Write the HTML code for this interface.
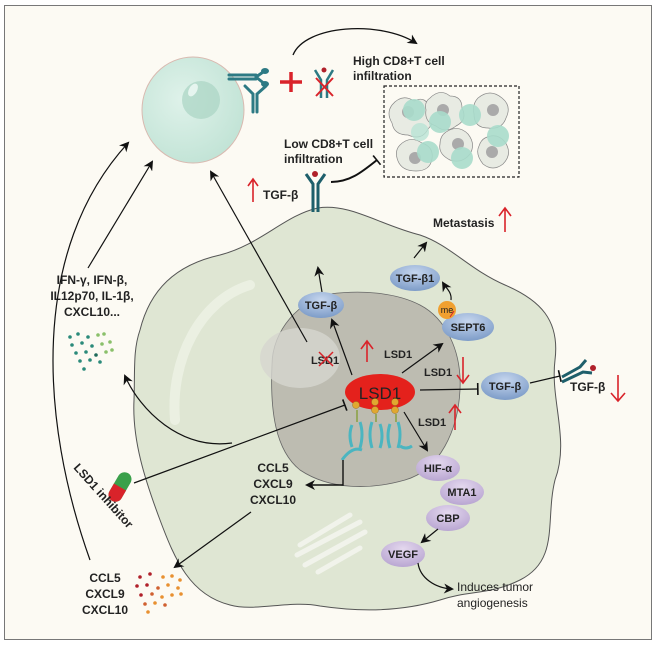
<!DOCTYPE html>
<html><head><meta charset="utf-8"><style>
html,body{margin:0;padding:0;background:#fff;}
svg{display:block;}
text{font-family:"Liberation Sans",Arial,sans-serif;font-weight:bold;fill:#222;}
</style></head><body>
<svg width="656" height="645" viewBox="0 0 656 645" xmlns="http://www.w3.org/2000/svg">
<defs>
<marker id="ah" markerWidth="10" markerHeight="10" refX="8" refY="5" orient="auto" markerUnits="userSpaceOnUse"><path d="M0,0 L10,5 L0,10 L3,5 z" fill="#111"/></marker>
<marker id="bar" markerWidth="4" markerHeight="12" refX="2" refY="6" orient="auto" markerUnits="userSpaceOnUse"><rect x="1" y="0" width="1.6" height="12" fill="#111"/></marker>
<radialGradient id="tc" cx="0.4" cy="0.4" r="0.7"><stop offset="0" stop-color="#dff2ea"/><stop offset="1" stop-color="#bfe2d4"/></radialGradient>
<radialGradient id="blue" cx="0.5" cy="0.3" r="0.7"><stop offset="0" stop-color="#c6d6ee"/><stop offset="1" stop-color="#7d9cc8"/></radialGradient>
<radialGradient id="purp" cx="0.5" cy="0.3" r="0.7"><stop offset="0" stop-color="#e4d8ee"/><stop offset="1" stop-color="#b9a6d2"/></radialGradient>
</defs>
<rect x="0" y="0" width="656" height="645" fill="#fff"/>
<rect x="4.5" y="5.5" width="647" height="634" fill="#fcfaf3" stroke="#777" stroke-width="1"/>

<!-- tumor cell -->
<path d="M140,330 C150,290 175,265 220,255 C260,245 285,215 318,208 C350,203 380,225 420,235 C450,245 470,270 505,285 C540,300 560,320 555,360 C550,400 570,440 555,480 C545,520 560,560 520,580 C490,595 470,590 440,600 C400,612 360,612 320,606 C290,600 255,612 230,605 C190,595 175,560 160,520 C145,480 132,440 134,400 C135,370 133,350 140,330 z" fill="#dfe6d3" stroke="#555" stroke-width="1"/>
<path d="M175,420 C170,360 200,300 250,285" stroke="#eef2e6" stroke-width="10" fill="none" stroke-linecap="round" opacity="0.8"/>
<!-- golgi -->
<g stroke="#f3f5ee" stroke-width="5" fill="none" stroke-linecap="round" opacity="0.9">
<path d="M300,545 L350,515"/><path d="M297,555 L360,522"/><path d="M305,565 L365,532"/><path d="M318,572 L360,548"/>
</g>
<!-- nucleus -->
<path d="M272,365 C272,330 300,300 330,294 C360,290 395,292 420,305 C445,318 462,350 460,390 C458,430 440,470 405,480 C370,490 330,490 300,470 C275,450 270,410 272,365 z" fill="#bdbcb1" stroke="#666" stroke-width="0.8"/>
<ellipse cx="300" cy="358" rx="40" ry="30" fill="#d6d6cf" opacity="0.8"/>

<!-- T cell -->
<ellipse cx="193" cy="110" rx="51" ry="53" fill="url(#tc)" stroke="#d9b9b0" stroke-width="1"/>
<circle cx="201" cy="100" r="19" fill="#a9d4c3" opacity="0.7"/>
<ellipse cx="193" cy="90" rx="4" ry="7" fill="#e6f5ef" transform="rotate(30 193 90)"/>

<!-- antibody/receptor top -->
<g stroke="#2d7a84" stroke-width="3" fill="none" stroke-linecap="round">
<path d="M229,75 L256,75 M229,79 L256,79"/>
<path d="M256,77 L266,70 M256,77 L266,85"/>
<path d="M253,112 L253,94 L245,86 M257,112 L257,94 L266,86"/>
</g>
<ellipse cx="265" cy="71" rx="4" ry="3" fill="#2d7a84"/>
<ellipse cx="265" cy="84" rx="4" ry="3" fill="#2d7a84"/>
<!-- red plus -->
<path d="M291,72 L291,92 M280,82 L302,82" stroke="#d9232a" stroke-width="3.5"/>
<!-- receptor with X -->
<g stroke="#2d7a84" stroke-width="2.5" fill="none">
<path d="M321,98 L321,80 L315,70 M327,98 L327,80 L333,70"/>
</g>
<circle cx="324" cy="70" r="2.5" fill="#b0202a"/>
<path d="M316,78 L333,96 M333,78 L316,96" stroke="#d9232a" stroke-width="2"/>
<!-- curved arrow to high -->
<path d="M293,55 C305,25 380,20 416,43" stroke="#111" stroke-width="1.3" fill="none" marker-end="url(#ah)"/>
<text x="353" y="65" font-size="12">High CD8+T cell</text>
<text x="353" y="80" font-size="12">infiltration</text>
<!-- dashed box -->
<rect x="384" y="86" width="135" height="91" fill="none" stroke="#222" stroke-width="1.2" stroke-dasharray="3,2"/>
<g>
<path d="M392,105 q10,-12 22,-4 q12,-6 16,8 q8,10 -2,20 q-6,12 -20,6 q-14,0 -16,-12 q-6,-10 0,-18z" fill="#e8ebe3" stroke="#888" stroke-width="0.7"/>
<path d="M430,98 q10,-10 20,-2 q12,0 12,12 q6,12 -6,18 q-10,8 -20,0 q-12,-4 -10,-16 q-2,-8 4,-12z" fill="#e8ebe3" stroke="#888" stroke-width="0.7"/>
<path d="M478,98 q12,-10 24,0 q10,8 4,20 q-4,12 -18,10 q-14,0 -14,-14 q-2,-10 4,-16z" fill="#e8ebe3" stroke="#888" stroke-width="0.7"/>
<path d="M400,145 q10,-10 22,-2 q12,4 10,16 q-2,12 -16,12 q-14,0 -18,-10 q-4,-10 2,-16z" fill="#e8ebe3" stroke="#888" stroke-width="0.7"/>
<path d="M446,132 q12,-8 22,2 q8,10 2,20 q-8,10 -20,6 q-12,-6 -10,-16 q0,-8 6,-12z" fill="#e8ebe3" stroke="#888" stroke-width="0.7"/>
<path d="M485,138 q12,-6 20,4 q8,12 -2,22 q-10,8 -20,0 q-8,-10 -4,-18 q2,-6 6,-8z" fill="#e8ebe3" stroke="#888" stroke-width="0.7"/>
<circle cx="408" cy="112" r="6" fill="#aaa"/><circle cx="443" cy="110" r="6" fill="#aaa"/><circle cx="493" cy="110" r="6" fill="#aaa"/><circle cx="415" cy="158" r="6" fill="#aaa"/><circle cx="458" cy="144" r="6" fill="#aaa"/><circle cx="492" cy="152" r="6" fill="#aaa"/>
<circle cx="414" cy="110" r="11" fill="#a8dccb" opacity="0.9"/><circle cx="440" cy="122" r="11" fill="#a8dccb" opacity="0.9"/><circle cx="470" cy="115" r="11" fill="#a8dccb" opacity="0.9"/><circle cx="428" cy="152" r="11" fill="#a8dccb" opacity="0.9"/><circle cx="462" cy="158" r="11" fill="#a8dccb" opacity="0.9"/><circle cx="498" cy="136" r="11" fill="#a8dccb" opacity="0.9"/><circle cx="420" cy="132" r="9" fill="#b8e3d4" opacity="0.8"/>
</g>
<text x="284" y="148" font-size="12">Low CD8+T cell</text>
<text x="284" y="163" font-size="12">infiltration</text>
<path d="M331,182 C350,182 362,172 377,160" stroke="#111" stroke-width="2" fill="none" marker-end="url(#bar)"/>
<!-- mid receptor -->
<g stroke="#1e5f6b" stroke-width="3" fill="none">
<path d="M313,212 L313,184 L306,174 M318,212 L318,184 L325,174"/>
</g>
<circle cx="315" cy="174" r="3" fill="#b0202a"/>
<path d="M253,202 L253,180 M248,186 L253,179 L258,186" stroke="#d9232a" stroke-width="1.6" fill="none"/>
<text x="263" y="199" font-size="12">TGF-β</text>

<text x="433" y="227" font-size="12">Metastasis</text>
<path d="M505,232 L505,209 M499,216 L505,208 L511,216" stroke="#d9232a" stroke-width="1.6" fill="none"/>

<!-- left texts -->
<text x="92" y="284" font-size="12" text-anchor="middle">IFN-γ, IFN-β,</text>
<text x="92" y="300" font-size="12" text-anchor="middle">IL12p70, IL-1β,</text>
<text x="92" y="316" font-size="12" text-anchor="middle">CXCL10...</text>
<path d="M88,268 L152,162" stroke="#111" stroke-width="1.2" fill="none" marker-end="url(#ah)"/>
<path d="M90,560 C40,420 30,250 128,143" stroke="#111" stroke-width="1.2" fill="none" marker-end="url(#ah)"/>
<path d="M307,342 L211,172" stroke="#111" stroke-width="1.2" fill="none" marker-end="url(#ah)"/>
<!-- green dots -->
<g fill="#2a8a7a">
<circle cx="70" cy="337" r="1.8"/><circle cx="78" cy="334" r="1.8"/><circle cx="88" cy="337" r="1.8"/><circle cx="98" cy="335" r="1.8" fill="#8ac06a"/><circle cx="104" cy="334" r="1.8" fill="#8ac06a"/>
<circle cx="72" cy="345" r="1.8"/><circle cx="82" cy="343" r="1.8"/><circle cx="92" cy="346" r="1.8"/><circle cx="102" cy="344" r="1.8" fill="#8ac06a"/><circle cx="110" cy="342" r="1.8" fill="#8ac06a"/>
<circle cx="76" cy="353" r="1.8"/><circle cx="86" cy="352" r="1.8"/><circle cx="96" cy="355" r="1.8" fill="#1e6a5a"/><circle cx="106" cy="352" r="1.8" fill="#8ac06a"/><circle cx="112" cy="350" r="1.8" fill="#8ac06a"/>
<circle cx="80" cy="361" r="1.8"/><circle cx="90" cy="360" r="1.8"/><circle cx="100" cy="362" r="1.8"/><circle cx="84" cy="369" r="1.8"/>
</g>
<!-- curve to dots -->
<path d="M232,443 C180,450 140,410 125,376" stroke="#111" stroke-width="1.2" fill="none" marker-end="url(#ah)"/>
<!-- inhibitor pill -->
<g transform="rotate(-60 120 487)">
<rect x="104" y="480" width="32" height="14" rx="7" fill="#3aa04a"/>
<path d="M111,480 L120,480 L120,494 L111,494 A7,7 0 0 1 111,480z" fill="#d9232a"/>
</g>
<path d="M134,483 L345,405" stroke="#111" stroke-width="1.2" fill="none" marker-end="url(#bar)"/>
<text x="0" y="0" font-size="12" transform="translate(73,468) rotate(48)">LSD1 inhibitor</text>

<!-- nucleus contents -->
<ellipse cx="380" cy="392" rx="35" ry="18" fill="#e4211c"/>
<text x="380" y="399" font-size="17" text-anchor="middle" style="font-weight:normal" fill="#222">LSD1</text>
<g fill="#e0a830" stroke="#a07020" stroke-width="0.5">
<circle cx="356" cy="405" r="3.5"/><circle cx="375" cy="402" r="3.5"/><circle cx="375" cy="410" r="3.5"/><circle cx="395" cy="402" r="3.5"/><circle cx="395" cy="410" r="3.5"/>
</g>
<g stroke="#4bb5c0" stroke-width="3" fill="none">
<path d="M352,425 q-4,10 0,22 M360,422 q4,12 0,26 M372,422 q-4,12 0,26 M380,424 q4,12 0,24 M390,424 q-4,12 0,24 M398,422 q4,12 0,26"/>
<path d="M342,460 q10,-14 20,-10 M400,446 q6,4 12,0"/>
</g>
<path d="M357,410 L357,422 M376,414 L376,422 M396,414 L396,422" stroke="#8aa040" stroke-width="1.5"/>

<!-- nucleus arrows -->
<path d="M352,375 L332,320" stroke="#111" stroke-width="1.2" fill="none" marker-end="url(#ah)"/>
<path d="M322,292 L318,268" stroke="#111" stroke-width="1.2" fill="none" marker-end="url(#ah)"/>
<ellipse cx="321" cy="305" rx="23" ry="13" fill="url(#blue)"/>
<text x="321" y="309" font-size="11" text-anchor="middle">TGF-β</text>
<text x="325" y="364" font-size="11" text-anchor="middle">LSD1</text>
<path d="M319,352 L333,366 M333,352 L319,366" stroke="#d9232a" stroke-width="1.5"/>
<path d="M367,362 L367,342 M361,349 L367,341 L373,349" stroke="#d9232a" stroke-width="1.6" fill="none"/>
<text x="384" y="358" font-size="11">LSD1</text>
<path d="M402,373 L442,344" stroke="#111" stroke-width="1.2" fill="none" marker-end="url(#ah)"/>
<ellipse cx="415" cy="278" rx="25" ry="13" fill="url(#blue)"/>
<text x="415" y="282" font-size="11" text-anchor="middle">TGF-β1</text>
<path d="M414,258 L426,243" stroke="#111" stroke-width="1.2" fill="none" marker-end="url(#ah)"/>
<ellipse cx="468" cy="327" rx="26" ry="14" fill="url(#blue)"/>
<text x="468" y="331" font-size="11" text-anchor="middle">SEPT6</text>
<circle cx="447" cy="310" r="9" fill="#f0a030"/>
<text x="447" y="313" font-size="9" text-anchor="middle" style="font-weight:normal">me</text>
<path d="M450,317 L454,311" stroke="#d9232a" stroke-width="1"/>
<path d="M451,300 C452,292 446,288 443,283" stroke="#111" stroke-width="1.2" fill="none" marker-end="url(#ah)"/>
<text x="424" y="376" font-size="11">LSD1</text>
<path d="M463,357 L463,382 M457,375 L463,383 L469,375" stroke="#d9232a" stroke-width="1.6" fill="none"/>
<path d="M420,390 L478,389" stroke="#111" stroke-width="1.2" fill="none" marker-end="url(#bar)"/>
<ellipse cx="505" cy="386" rx="24" ry="14" fill="url(#blue)"/>
<text x="505" y="390" font-size="11" text-anchor="middle">TGF-β</text>
<path d="M530,383 L560,376" stroke="#111" stroke-width="1.2" fill="none" marker-end="url(#bar)"/>
<g stroke="#1e5f6b" stroke-width="3" fill="none">
<path d="M562,382 L583,372 L592,373 M562,377 L580,367 L586,360"/>
</g>
<circle cx="593" cy="368" r="3" fill="#b0202a"/>
<text x="570" y="391" font-size="12">TGF-β</text>
<path d="M618,375 L618,400 M611,393 L618,401 L625,393" stroke="#d9232a" stroke-width="1.6" fill="none"/>
<text x="418" y="426" font-size="11">LSD1</text>
<path d="M455,430 L455,406 M449,413 L455,405 L461,413" stroke="#d9232a" stroke-width="1.6" fill="none"/>
<path d="M404,412 L427,450" stroke="#111" stroke-width="1.2" fill="none" marker-end="url(#ah)"/>
<ellipse cx="438" cy="468" rx="22" ry="13" fill="url(#purp)"/>
<text x="438" y="472" font-size="11" text-anchor="middle">HIF-α</text>
<ellipse cx="462" cy="492" rx="22" ry="13" fill="url(#purp)"/>
<text x="462" y="496" font-size="11" text-anchor="middle">MTA1</text>
<ellipse cx="448" cy="518" rx="22" ry="13" fill="url(#purp)"/>
<text x="448" y="522" font-size="11" text-anchor="middle">CBP</text>
<path d="M438,529 L422,542" stroke="#111" stroke-width="1.2" fill="none" marker-end="url(#ah)"/>
<ellipse cx="403" cy="554" rx="22" ry="13" fill="url(#purp)"/>
<text x="403" y="558" font-size="11" text-anchor="middle">VEGF</text>
<path d="M418,563 C420,578 435,588 452,589" stroke="#111" stroke-width="1.2" fill="none" marker-end="url(#ah)"/>
<text x="457" y="591" font-size="12" style="font-weight:normal">Induces tumor</text>
<text x="457" y="607" font-size="12" style="font-weight:normal">angiogenesis</text>

<!-- elbow -->
<path d="M343,460 L343,485 L307,485" stroke="#111" stroke-width="1.4" fill="none" marker-end="url(#ah)"/>
<text x="273" y="472" font-size="12" text-anchor="middle">CCL5</text>
<text x="273" y="488" font-size="12" text-anchor="middle">CXCL9</text>
<text x="273" y="504" font-size="12" text-anchor="middle">CXCL10</text>
<path d="M251,512 L175,567" stroke="#111" stroke-width="1.2" fill="none" marker-end="url(#ah)"/>
<text x="105" y="582" font-size="12" text-anchor="middle">CCL5</text>
<text x="105" y="598" font-size="12" text-anchor="middle">CXCL9</text>
<text x="105" y="614" font-size="12" text-anchor="middle">CXCL10</text>
<g>
<circle cx="140" cy="577" r="1.8" fill="#b0202a"/><circle cx="150" cy="574" r="1.8" fill="#b0202a"/><circle cx="163" cy="577" r="1.8" fill="#e89030"/><circle cx="172" cy="576" r="1.8" fill="#e89030"/><circle cx="180" cy="580" r="1.8" fill="#e89030"/>
<circle cx="137" cy="586" r="1.8" fill="#b0202a"/><circle cx="147" cy="585" r="1.8" fill="#b0202a"/><circle cx="158" cy="588" r="1.8" fill="#d06030"/><circle cx="168" cy="585" r="1.8" fill="#e89030"/><circle cx="178" cy="588" r="1.8" fill="#e89030"/>
<circle cx="141" cy="595" r="1.8" fill="#b0202a"/><circle cx="152" cy="594" r="1.8" fill="#d06030"/><circle cx="162" cy="597" r="1.8" fill="#e89030"/><circle cx="172" cy="595" r="1.8" fill="#e89030"/><circle cx="181" cy="594" r="1.8" fill="#e89030"/>
<circle cx="145" cy="604" r="1.8" fill="#d06030"/><circle cx="155" cy="603" r="1.8" fill="#e89030"/><circle cx="165" cy="605" r="1.8" fill="#d06030"/><circle cx="148" cy="612" r="1.8" fill="#e89030"/>
</g>
</svg>
</body></html>
